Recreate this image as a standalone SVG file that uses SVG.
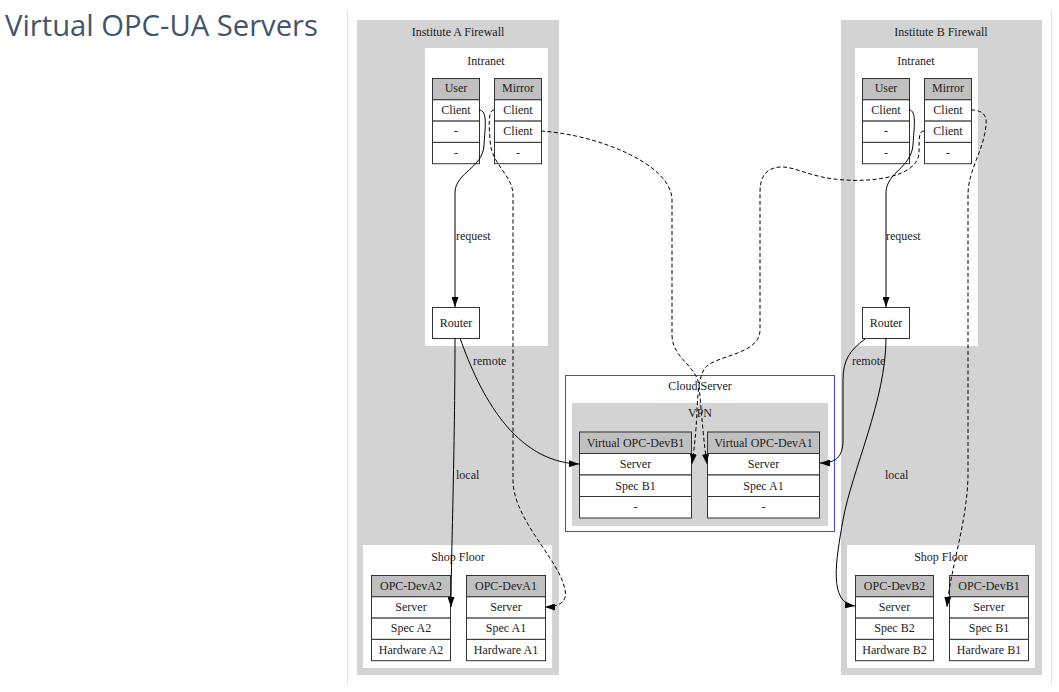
<svg xmlns="http://www.w3.org/2000/svg" width="1059" height="692" viewBox="0 0 1059 692">
<style>
text{font-family:"Liberation Serif","Times New Roman",serif;font-size:12px;fill:#222;text-anchor:middle}
.title{font-family:"Open Sans","Noto Sans",sans-serif;font-size:29px;fill:#44546a;text-anchor:start}
.el{text-anchor:start}
.fw{fill:#d3d3d3}
.wh{fill:#fff}
.cell{fill:#fff;stroke:#333;stroke-width:1}
.hd{fill:#c0c0c0;stroke:#333;stroke-width:1}
.e{fill:none;stroke:#000;stroke-width:1;marker-end:url(#ah)}
.d{stroke-dasharray:4,2.5}
.frame{stroke:#e2e2e2;stroke-width:1}
</style>
<defs>
<marker id="ah" viewBox="0 0 10 7" refX="10" refY="3.5" markerWidth="10" markerHeight="7" markerUnits="userSpaceOnUse" orient="auto">
<path d="M0,0 L10,3.5 L0,7 z" fill="#000"/>
</marker>
</defs>
<rect width="1059" height="692" fill="#fff"/>
<text class="title" x="5" y="36" textLength="313" lengthAdjust="spacingAndGlyphs">Virtual OPC-UA Servers</text>
<line class="frame" x1="347.5" y1="10" x2="347.5" y2="685"/>
<line class="frame" x1="1051.5" y1="10" x2="1051.5" y2="685"/>

<g id="instituteA">
<rect class="fw" x="357" y="20" width="202" height="655"/>
<text x="458" y="36">Institute A Firewall</text>
<rect class="wh" x="425" y="48" width="123" height="298"/>
<text x="486" y="65">Intranet</text>
<rect class="wh" x="363" y="545" width="189" height="123"/>
<text x="458" y="561">Shop Floor</text>
</g>
<g id="instituteB">
<rect class="fw" x="841" y="20" width="201" height="655"/>
<text x="941" y="36">Institute B Firewall</text>
<rect class="wh" x="855" y="48" width="123" height="298"/>
<text x="916" y="65">Intranet</text>
<rect class="wh" x="847" y="545" width="188" height="123"/>
<text x="941" y="561">Shop Floor</text>
</g>
<g id="cloud">
<rect x="565.5" y="375.5" width="269" height="156" fill="#fff" stroke="#4444ff" stroke-width="1"/>
<text x="700" y="390">Cloud Server</text>
<rect class="fw" x="572" y="403" width="256" height="123"/>
<text x="700" y="417">VPN</text>
</g>

<g id="A_User">
<rect class="hd" x="432.5" y="78.5" width="47" height="21.3"/><text x="456" y="92">User</text>
<rect class="cell" x="432.5" y="99.8" width="47" height="21.3"/><text x="456" y="114">Client</text>
<rect class="cell" x="432.5" y="121.1" width="47" height="21.3"/><text x="456" y="135">-</text>
<rect class="cell" x="432.5" y="142.4" width="47" height="21.3"/><text x="456" y="157">-</text>
</g>
<g id="A_Mirror">
<rect class="hd" x="494.5" y="78.5" width="47" height="21.3"/><text x="518" y="92">Mirror</text>
<rect class="cell" x="494.5" y="99.8" width="47" height="21.3"/><text x="518" y="114">Client</text>
<rect class="cell" x="494.5" y="121.1" width="47" height="21.3"/><text x="518" y="135">Client</text>
<rect class="cell" x="494.5" y="142.4" width="47" height="21.3"/><text x="518" y="157">-</text>
</g>
<g id="A_Router">
<rect class="cell" x="432.5" y="307.5" width="47" height="31"/><text x="456" y="327">Router</text>
</g>
<g id="B_User">
<rect class="hd" x="862.5" y="78.5" width="47" height="21.3"/><text x="886" y="92">User</text>
<rect class="cell" x="862.5" y="99.8" width="47" height="21.3"/><text x="886" y="114">Client</text>
<rect class="cell" x="862.5" y="121.1" width="47" height="21.3"/><text x="886" y="135">-</text>
<rect class="cell" x="862.5" y="142.4" width="47" height="21.3"/><text x="886" y="157">-</text>
</g>
<g id="B_Mirror">
<rect class="hd" x="924.5" y="78.5" width="47" height="21.3"/><text x="948" y="92">Mirror</text>
<rect class="cell" x="924.5" y="99.8" width="47" height="21.3"/><text x="948" y="114">Client</text>
<rect class="cell" x="924.5" y="121.1" width="47" height="21.3"/><text x="948" y="135">Client</text>
<rect class="cell" x="924.5" y="142.4" width="47" height="21.3"/><text x="948" y="157">-</text>
</g>
<g id="B_Router">
<rect class="cell" x="862.5" y="307.5" width="47" height="31"/><text x="886" y="327">Router</text>
</g>

<g id="VirtualDevB1">
<rect class="hd" x="579.5" y="432" width="112" height="21.5"/><text x="635.5" y="447">Virtual OPC-DevB1</text>
<rect class="cell" x="579.5" y="453.5" width="112" height="21.5"/><text x="635.5" y="468">Server</text>
<rect class="cell" x="579.5" y="475" width="112" height="21.5"/><text x="635.5" y="490">Spec B1</text>
<rect class="cell" x="579.5" y="496.5" width="112" height="21.5"/><text x="635.5" y="511">-</text>
</g>
<g id="VirtualDevA1">
<rect class="hd" x="707.5" y="432" width="112" height="21.5"/><text x="763.5" y="447">Virtual OPC-DevA1</text>
<rect class="cell" x="707.5" y="453.5" width="112" height="21.5"/><text x="763.5" y="468">Server</text>
<rect class="cell" x="707.5" y="475" width="112" height="21.5"/><text x="763.5" y="490">Spec A1</text>
<rect class="cell" x="707.5" y="496.5" width="112" height="21.5"/><text x="763.5" y="511">-</text>
</g>

<g id="OPC_DevA2">
<rect class="hd" x="371.5" y="575.5" width="79" height="21.3"/><text x="411" y="590">OPC-DevA2</text>
<rect class="cell" x="371.5" y="596.8" width="79" height="21.3"/><text x="411" y="611">Server</text>
<rect class="cell" x="371.5" y="618.1" width="79" height="21.3"/><text x="411" y="632">Spec A2</text>
<rect class="cell" x="371.5" y="639.4" width="79" height="21.3"/><text x="411" y="654">Hardware A2</text>
</g>
<g id="OPC_DevA1">
<rect class="hd" x="466.5" y="575.5" width="79" height="21.3"/><text x="506" y="590">OPC-DevA1</text>
<rect class="cell" x="466.5" y="596.8" width="79" height="21.3"/><text x="506" y="611">Server</text>
<rect class="cell" x="466.5" y="618.1" width="79" height="21.3"/><text x="506" y="632">Spec A1</text>
<rect class="cell" x="466.5" y="639.4" width="79" height="21.3"/><text x="506" y="654">Hardware A1</text>
</g>
<g id="OPC_DevB2">
<rect class="hd" x="855.5" y="575.5" width="78" height="21.3"/><text x="894.5" y="590">OPC-DevB2</text>
<rect class="cell" x="855.5" y="596.8" width="78" height="21.3"/><text x="894.5" y="611">Server</text>
<rect class="cell" x="855.5" y="618.1" width="78" height="21.3"/><text x="894.5" y="632">Spec B2</text>
<rect class="cell" x="855.5" y="639.4" width="78" height="21.3"/><text x="894.5" y="654">Hardware B2</text>
</g>
<g id="OPC_DevB1">
<rect class="hd" x="949.5" y="575.5" width="79" height="21.3"/><text x="989" y="590">OPC-DevB1</text>
<rect class="cell" x="949.5" y="596.8" width="79" height="21.3"/><text x="989" y="611">Server</text>
<rect class="cell" x="949.5" y="618.1" width="79" height="21.3"/><text x="989" y="632">Spec B1</text>
<rect class="cell" x="949.5" y="639.4" width="79" height="21.3"/><text x="989" y="654">Hardware B1</text>
</g>

<g id="connectors">
<path class="e" d="M479,110 C488,110 485,128 484,145 C483,168 456,172 455,192 L455,307"/>
<path class="e" d="M455,338 C455,450 451,560 451,607"/>
<path class="e" d="M460,338 C480,395 515,462 579,464"/>
<path class="e d" d="M494,110 C488,110 489,125 490,140 C491,165 513,175 513,195 L513,480 C513,520 560,560 565,590 C568,603 557,607 545,607"/>
<path class="e d" d="M541,131 C600,135 672,165 672,200 L672,335 C672,358 696,365 699,385 C702,420 704,445 707,464"/>
<path class="e d" d="M924,131 C916,131 921,150 918,158 C912,175 880,182 845,180 C810,178 795,166 780,167 C765,168 760,178 760,192 L760,330 C760,355 715,355 705,368 C699,377 698,390 697,410 C696,435 694,450 692,464"/>
<path class="e" d="M909,110 C917,110 914,128 913,145 C911,168 887,172 886,192 L886,307"/>
<path class="e" d="M865,339 C850,350 843,360 843,380 L843,440 C843,458 835,463 820,463"/>
<path class="e" d="M886,338 C886,400 852,470 843,520 C836,560 828,603 855,606"/>
<path class="e d" d="M971,110 C985,110 987,118 986,125 C984,150 968,170 968,195 L968,473 C968,520 950,570 947,607"/>
<text class="el" x="456" y="240">request</text>
<text class="el" x="886" y="240">request</text>
<text class="el" x="473" y="365">remote</text>
<text class="el" x="852" y="365">remote</text>
<text class="el" x="456" y="479">local</text>
<text class="el" x="885" y="479">local</text>
</g>
</svg>
